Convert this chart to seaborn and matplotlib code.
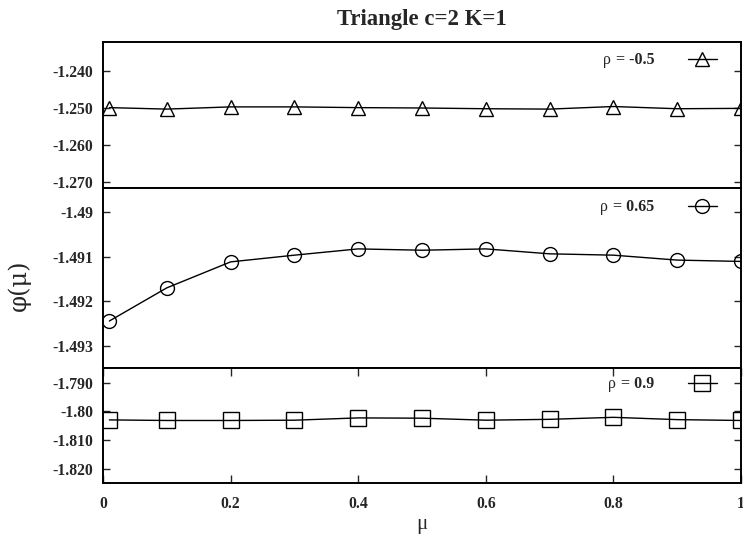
import numpy as np
import pandas as pd
import matplotlib
matplotlib.use("Agg")
import matplotlib.pyplot as plt
import seaborn as sns

mu = [0.01, 0.1, 0.2, 0.3, 0.4, 0.5, 0.6, 0.7, 0.8, 0.9, 1.0]
phi_m05 = [-1.2499, -1.2503, -1.2497, -1.2497, -1.2499, -1.2500, -1.2502, -1.2503, -1.2496, -1.2502, -1.2501]
phi_065 = [-1.49244, -1.49170, -1.49112, -1.49097, -1.49083, -1.49086, -1.49083, -1.49094, -1.49097, -1.49108, -1.49111]
phi_09 = [-1.8030, -1.8032, -1.8032, -1.8031, -1.8023, -1.8024, -1.8031, -1.8028, -1.8021, -1.8029, -1.8032]

rho_labels = ["-0.5", "0.65", "0.9"]
markers = ["^", "o", "s"]

yticks_top = [-1.240, -1.250, -1.260, -1.270]
yticklabels_top = ["-1.240", "-1.250", "-1.260", "-1.270"]
yticks_mid = [-1.490, -1.491, -1.492, -1.493]
yticklabels_mid = ["-1.49", "-1.491", "-1.492", "-1.493"]
yticks_bot = [-1.790, -1.800, -1.810, -1.820]
yticklabels_bot = ["-1.790", "-1.80", "-1.810", "-1.820"]
xticks = [0, 0.2, 0.4, 0.6, 0.8, 1.0]
xticklabels = ["0", "0.2", "0.4", "0.6", "0.8", "1"]

sns.set_style("ticks")
plt.rcParams["font.family"] = ["Liberation Serif", "DejaVu Serif"]
plt.rcParams["axes.unicode_minus"] = False

fig = plt.figure(figsize=(7.43, 5.35), dpi=100)
L, R = 103 / 743, 741 / 743
W = R - L
H = 535
ax_top = fig.add_axes([L, 1 - 188 / H, W, 146 / H])
ax_mid = fig.add_axes([L, 1 - 368 / H, W, 180 / H])
ax_bot = fig.add_axes([L, 1 - 483 / H, W, 115 / H])

series = [phi_m05, phi_065, phi_09]
axes = [ax_top, ax_mid, ax_bot]
ylims = [(-1.2717, -1.2321), (-1.49349, -1.48947), (-1.8250, -1.7849)]
ytk = [(yticks_top, yticklabels_top), (yticks_mid, yticklabels_mid), (yticks_bot, yticklabels_bot)]
leg_offsets = [4, 5, 2]

for ax, ys, rl, mk, yl, (tv, tl), lo in zip(axes, series, rho_labels, markers, ylims, ytk, leg_offsets):
    df = pd.DataFrame({"mu": mu, "phi": ys})
    ms = 10 if mk != "s" else 11
    sns.lineplot(data=df, x="mu", y="phi", ax=ax, color="black", linewidth=1.0,
                 marker=mk, markersize=ms, markerfacecolor="none",
                 markeredgecolor="black", markeredgewidth=1.0,
                 label="= " + rl)
    ax.set_xlim(0, 1)
    ax.set_ylim(*yl)
    ax.set_yticks(tv)
    ax.set_yticklabels(tl, fontweight="bold", fontsize=11.3)
    ax.set_xlabel("")
    ax.set_ylabel("")
    ax.tick_params(axis="y", direction="in", left=True, right=True, length=5, width=1, pad=7)
    for s in ax.spines.values():
        s.set_linewidth(1.4)
        s.set_color("black")
    leg = ax.legend(loc="upper right", frameon=False, markerfirst=False,
                    handlelength=1.8, handletextpad=2.1, borderaxespad=0.0,
                    bbox_to_anchor=(1 - 18 / 638, 1 - lo / (ax.get_position().height * H)),
                    prop={"family": "Liberation Serif", "weight": "bold", "size": 11.5})
    # regular-weight rho placed just left of the bold legend text
    fig.canvas.draw()
    t = leg.get_texts()[0]
    bb = t.get_window_extent(fig.canvas.get_renderer())
    fig.text(bb.x0 - 5, (bb.y0 + bb.y1) / 2, "ρ", transform=None, ha="right", va="center",
             fontsize=11.5, fontweight="normal")

for ax in [ax_top, ax_mid]:
    ax.set_xticks([])

ax_bot.set_xticks(xticks)
ax_bot.set_xticklabels(xticklabels, fontweight="bold", fontsize=11.3)
ax_bot.tick_params(axis="x", direction="in", top=True, bottom=True, length=6, width=1, pad=9)

fig.text((L + R) / 2, 1 - 20 / H, "Triangle c=2 K=1", ha="center", va="center",
         fontsize=16.4, fontweight="bold")
fig.text(19 / 743, 1 - 285 / H, "φ(μ)", rotation=90, ha="center", va="center", fontsize=17.5,
         family=["DejaVu Serif"])
fig.text((L + R) / 2, 1 - 525 / H, "μ", ha="center", va="center", fontsize=15)

fig.savefig("out.png", dpi=100)
